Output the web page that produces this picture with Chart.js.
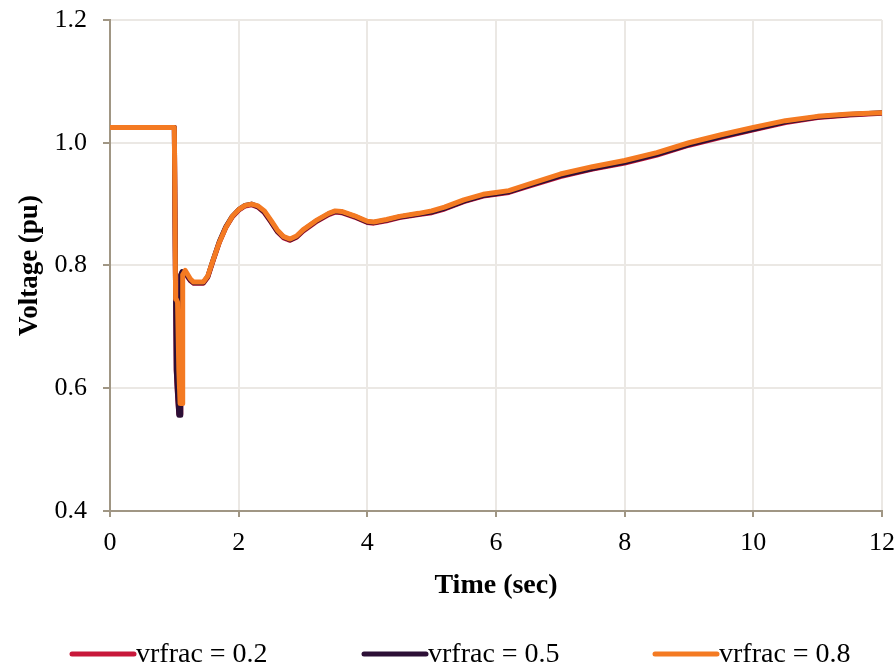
<!DOCTYPE html>
<html>
<head>
<meta charset="utf-8">
<script src="https://cdn.jsdelivr.net/npm/chart.js@4"></script>
<style>
  html, body { margin: 0; padding: 0; background: #ffffff; }
  #c { display: block; }
</style>
</head>
<body>
<canvas id="c" width="896" height="665"></canvas>
<script>
// ---- data ----
const time = [0, 1.0, 1.01, 1.02, 1.03, 1.05, 1.07, 1.09, 1.10, 1.12,
  1.13, 1.17, 1.25, 1.3, 1.45, 1.52, 1.6, 1.7, 1.8, 1.9,
  2.0, 2.1, 2.2, 2.3, 2.4, 2.5, 2.6, 2.7, 2.8, 2.9,
  3.0, 3.2, 3.4, 3.5, 3.6, 3.8, 4.0, 4.1, 4.3, 4.5,
  4.8, 5.0, 5.2, 5.5, 5.8, 6.0, 6.2, 6.5, 7.0, 7.5,
  8.0, 8.5, 9.0, 9.5, 10.0, 10.5, 11.0, 11.5, 12.0];

const vrfrac02 = [1.025, 1.025, 1.025, 0.745, 0.628, 0.588, 0.558, 0.558, 0.784, 0.789,
  0.789, 0.787, 0.775, 0.771, 0.771, 0.781, 0.807, 0.838, 0.862, 0.879,
  0.890, 0.897, 0.899, 0.895, 0.886, 0.871, 0.855, 0.845, 0.841, 0.846,
  0.856, 0.871, 0.883, 0.887, 0.886, 0.879, 0.870, 0.869, 0.873, 0.878,
  0.883, 0.886, 0.892, 0.904, 0.913, 0.916, 0.919, 0.929, 0.945, 0.957,
  0.967, 0.980, 0.996, 1.009, 1.021, 1.033, 1.041, 1.045, 1.048];

const vrfrac05 = [1.025, 1.025, 1.025, 0.745, 0.630, 0.590, 0.556, 0.556, 0.785, 0.790,
  0.790, 0.788, 0.776, 0.772, 0.772, 0.782, 0.808, 0.839, 0.863, 0.880,
  0.891, 0.898, 0.900, 0.896, 0.887, 0.872, 0.856, 0.846, 0.842, 0.847,
  0.857, 0.872, 0.884, 0.888, 0.887, 0.880, 0.871, 0.870, 0.874, 0.879,
  0.884, 0.887, 0.893, 0.905, 0.914, 0.917, 0.920, 0.930, 0.946, 0.958,
  0.968, 0.981, 0.997, 1.010, 1.022, 1.034, 1.042, 1.046, 1.049];

const vrfrac08 = [1.025, 1.025, 1.025, 0.745, 0.745, 0.740, 0.630, 0.575, 0.575, 0.575,
  0.785, 0.792, 0.778, 0.773, 0.773, 0.783, 0.808, 0.838, 0.862, 0.880,
  0.891, 0.898, 0.900, 0.897, 0.889, 0.874, 0.858, 0.847, 0.843, 0.848,
  0.858, 0.873, 0.885, 0.889, 0.888, 0.881, 0.872, 0.871, 0.875, 0.880,
  0.885, 0.889, 0.895, 0.907, 0.916, 0.919, 0.922, 0.932, 0.949, 0.961,
  0.971, 0.984, 1.000, 1.013, 1.025, 1.036, 1.043, 1.047, 1.049];

const seriesLabels = ['vrfrac = 0.2', 'vrfrac = 0.5', 'vrfrac = 0.8'];
const seriesColors = ['#c8183a', '#2c0f36', '#f47a22'];
const xTitle = 'Time (sec)';
const yTitle = 'Voltage (pu)';

// ---- chart ----
const serif = "'Liberation Serif', 'Times New Roman', serif";
const axisColor = '#a09684';
const gridColor = '#ebe8e4';

function pts(vals) { return vals.map((v, i) => ({ x: time[i], y: v })); }

const legendPlugin = {
  id: 'bottomLegend',
  afterDraw(chart) {
    const ctx = chart.ctx;
    const starts = [72, 364, 655];
    const y = 655;
    ctx.save();
    ctx.font = "28px " + serif;
    ctx.textBaseline = 'middle';
    ctx.textAlign = 'left';
    seriesLabels.forEach((lab, i) => {
      const x0 = starts[i];
      ctx.strokeStyle = seriesColors[i];
      ctx.lineWidth = 5;
      ctx.lineCap = 'round';
      ctx.beginPath();
      ctx.moveTo(x0, y - 1);
      ctx.lineTo(x0 + 62, y - 1);
      ctx.stroke();
      ctx.fillStyle = '#000';
      ctx.fillText(lab, x0 + 64, y);
    });
    ctx.restore();
  }
};

new Chart(document.getElementById('c'), {
  type: 'line',
  data: {
    datasets: [
      { label: seriesLabels[0], data: pts(vrfrac02), borderColor: seriesColors[0], order: 2 },
      { label: seriesLabels[1], data: pts(vrfrac05), borderColor: seriesColors[1], order: 1 },
      { label: seriesLabels[2], data: pts(vrfrac08), borderColor: seriesColors[2], order: 0 }
    ]
  },
  options: {
    responsive: false,
    animation: false,
    devicePixelRatio: 1,
    layout: { padding: { left: 0, top: 20, right: 14, bottom: 34 } },
    elements: {
      line: { borderWidth: 5, tension: 0, fill: false, borderJoinStyle: 'round', borderCapStyle: 'round' },
      point: { radius: 0, hoverRadius: 0 }
    },
    plugins: {
      legend: { display: false },
      tooltip: { enabled: false }
    },
    scales: {
      x: {
        type: 'linear',
        min: 0, max: 12,
        ticks: { stepSize: 2, color: '#000', font: { family: serif, size: 26 }, padding: 11, maxRotation: 0 },
        grid: { color: gridColor, lineWidth: 2, tickColor: axisColor, tickLength: 6, tickWidth: 2 },
        border: { color: axisColor, width: 2 },
        title: { display: true, text: xTitle, color: '#000', font: { family: serif, size: 28, weight: 'bold' }, padding: { top: 0, bottom: 28 } },
        afterFit(s) { s.height = 120; s.paddingLeft = 0; s.paddingRight = 0; }
      },
      y: {
        min: 0.4, max: 1.2,
        ticks: { stepSize: 0.2, color: '#000', font: { family: serif, size: 26 }, padding: 16,
          callback: v => Number(v).toFixed(1) },
        grid: { color: gridColor, lineWidth: 2, tickColor: axisColor, tickLength: 7, tickWidth: 2 },
        border: { color: axisColor, width: 2 },
        title: { display: true, text: yTitle, color: '#000', font: { family: serif, size: 27, weight: 'bold' }, padding: { top: 14, bottom: 0 } },
        afterFit(s) { s.width = 110; s.paddingTop = 0; s.paddingBottom = 0; }
      }
    }
  },
  plugins: [legendPlugin]
});
</script>
</body>
</html>
